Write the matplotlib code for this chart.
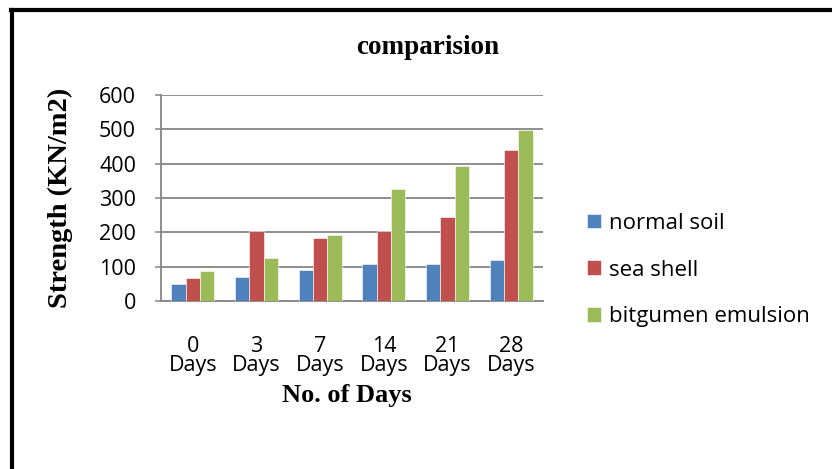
import matplotlib.pyplot as plt
import numpy as np

# data
days = ['0\nDays', '3\nDays', '7\nDays', '14\nDays', '21\nDays', '28\nDays']
normal_soil = [50, 70, 89, 107, 108, 119]
sea_shell = [67, 203, 184, 205, 244, 441]
bitgumen = [86, 126, 193, 326, 392, 499]
series_names = ['normal soil', 'sea shell', 'bitgumen emulsion']
colors = ['#4F81BD', '#C0504D', '#9BBB59']

fig = plt.figure(figsize=(8.32, 4.69), dpi=100)
ax = fig.add_axes([161 / 832, 1 - 301 / 469, 382 / 832, 206 / 469])

x = np.arange(len(days))
w = 0.225
grid_c = '#868686'
tick_font = 'Open Sans'

bars = []
for i, (vals, c) in enumerate(zip([normal_soil, sea_shell, bitgumen], colors)):
    b = ax.bar(x + (i - 1) * w, vals, w, color=c, edgecolor='white',
               linewidth=0.4, zorder=3, label=series_names[i])
    bars.append(b)

ax.set_xlim(-0.5, len(days) - 0.5)
ax.set_ylim(0, 600)
ax.set_yticks(range(0, 601, 100))
ax.set_xticks(x)
ax.set_xticklabels(days, fontsize=15.5, family=tick_font, linespacing=0.9)
for lab in ax.get_yticklabels():
    lab.set_fontsize(15.5)
    lab.set_family(tick_font)

ax.yaxis.grid(True, color=grid_c, linewidth=1.3, zorder=0)
ax.tick_params(axis='y', length=4, width=1.1, color=grid_c, pad=14)
ax.tick_params(axis='x', length=0, pad=25)
for s in ['top', 'right']:
    ax.spines[s].set_visible(False)
for s in ['left', 'bottom']:
    ax.spines[s].set_color(grid_c)
    ax.spines[s].set_linewidth(1.3)

ax.set_ylabel('Strength (KN/m2)', family='Liberation Serif', fontweight='bold',
              fontsize=20.5, va='center')
ax.yaxis.set_label_coords((60 - 161) / 382, 0.5)
ax.set_xlabel('No. of Days', family='Liberation Serif', fontweight='bold',
              fontsize=19, va='center')
ax.xaxis.set_label_coords((347 - 161) / 382, (301 - 395) / 206)

fig.text(428 / 832, 1 - 47 / 469, 'comparision', family='Liberation Serif',
         fontweight='bold', fontsize=19.5, ha='center', va='center')

fig.legend(handles=bars, loc='center left', bbox_to_anchor=(587 / 832, 1 - 270 / 469),
           frameon=False, prop={'family': tick_font, 'size': 16},
           handlelength=0.63, handleheight=0.63, handletextpad=0.35,
           labelspacing=1.15, borderaxespad=0, borderpad=0)

# outer frame (left and top edges only)
fig.add_artist(plt.Line2D([12 / 832, 12 / 832], [0, 1 - 10.5 / 469],
                          transform=fig.transFigure, color='black', linewidth=3))
fig.add_artist(plt.Line2D([10.5 / 832, 1], [1 - 10.5 / 469, 1 - 10.5 / 469],
                          transform=fig.transFigure, color='black', linewidth=3))

fig.savefig('out.png', dpi=100)
